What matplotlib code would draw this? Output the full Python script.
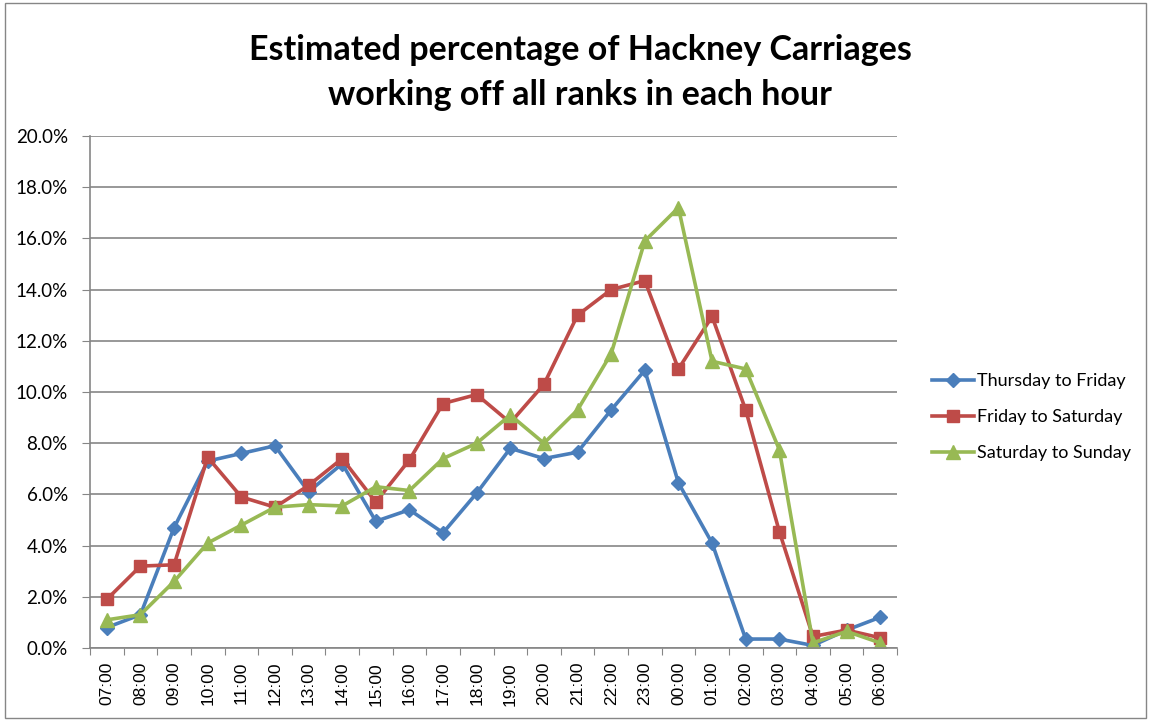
import matplotlib
matplotlib.use('Agg')
import matplotlib.pyplot as plt
from matplotlib.patches import Rectangle

#----------------------------
#          DATA
#----------------------------
hours = ['07:00', '08:00', '09:00', '10:00', '11:00', '12:00', '13:00', '14:00',
         '15:00', '16:00', '17:00', '18:00', '19:00', '20:00', '21:00', '22:00',
         '23:00', '00:00', '01:00', '02:00', '03:00', '04:00', '05:00', '06:00']

thu_fri = [0.8, 1.3, 4.7, 7.3, 7.6, 7.9, 6.1, 7.2, 4.95, 5.4, 4.5, 6.05,
           7.8, 7.4, 7.65, 9.3, 10.85, 6.45, 4.1, 0.35, 0.35, 0.1, 0.7, 1.2]
fri_sat = [1.9, 3.2, 3.25, 7.45, 5.9, 5.5, 6.35, 7.4, 5.7, 7.35, 9.55, 9.9,
           8.8, 10.3, 13.0, 14.0, 14.35, 10.9, 12.95, 9.3, 4.55, 0.45, 0.7, 0.4]
sat_sun = [1.1, 1.3, 2.6, 4.1, 4.8, 5.5, 5.6, 5.55, 6.3, 6.15, 7.4, 8.0,
           9.1, 8.0, 9.3, 11.5, 15.9, 17.2, 11.2, 10.9, 7.75, 0.2, 0.65, 0.2]

yticks = [0, 2, 4, 6, 8, 10, 12, 14, 16, 18, 20]

title_lines = ['Estimated percentage of Hackney Carriages',
               'working off all ranks in each hour']

#----------------------------
#          PLOT
#----------------------------
plt.rcParams['font.family'] = ['Lato', 'DejaVu Sans']

fig = plt.figure(figsize=(11.51, 7.21), dpi=100)
ax = fig.add_axes([90/1151, 1-648/721, (897-90)/1151, (648-136)/721])

x = list(range(len(hours)))
ax.plot(x, thu_fri, color='#4A7EBB', lw=2.6, marker='D', ms=7.5, label='Thursday to Friday')
ax.plot(x, fri_sat, color='#BE4B48', lw=2.6, marker='s', ms=8.5, label='Friday to Saturday')
ax.plot(x, sat_sun, color='#98B954', lw=2.6, marker='^', ms=9.5, label='Saturday to Sunday')

ax.set_xlim(-0.5, len(hours)-0.5)
ax.set_ylim(0, 20)
ax.set_yticks(yticks)
ax.set_yticklabels(['%.1f%%' % v for v in yticks], fontsize=13.5)
ax.yaxis.grid(True, color='#868686', lw=1.2)
ax.set_axisbelow(True)

ax.set_xticks([i-0.5 for i in range(len(hours)+1)])
ax.set_xticklabels([])
ax.set_xticks(x, minor=True)
ax.set_xticklabels(hours, minor=True, rotation=90, fontsize=12.5, family='Liberation Sans')
ax.tick_params(axis='x', which='minor', length=0, pad=10)
ax.tick_params(axis='x', which='major', length=5, color='#868686', direction='out')
ax.tick_params(axis='y', length=6, color='#868686', direction='out', pad=10)

for s in ['top', 'right']:
    ax.spines[s].set_visible(False)
for s in ['left', 'bottom']:
    ax.spines[s].set_color('#868686')
    ax.spines[s].set_linewidth(1.2)

fig.text(580/1151, 1-60/721, title_lines[0], ha='center', va='baseline',
         fontsize=24.5, fontweight='bold')
fig.text(580/1151, 1-105/721, title_lines[1], ha='center', va='baseline',
         fontsize=24.5, fontweight='bold')

fig.legend(loc='center left', bbox_to_anchor=(916/1151, 1-417/721), frameon=False,
           fontsize=13, handlelength=2.3, labelspacing=1.1, handletextpad=0.2)

fig.patches.append(Rectangle((0.004, 0.004), 0.992, 0.992, transform=fig.transFigure,
                             fill=False, edgecolor='#868686', lw=1.0))

plt.savefig('out.png', dpi=100)
